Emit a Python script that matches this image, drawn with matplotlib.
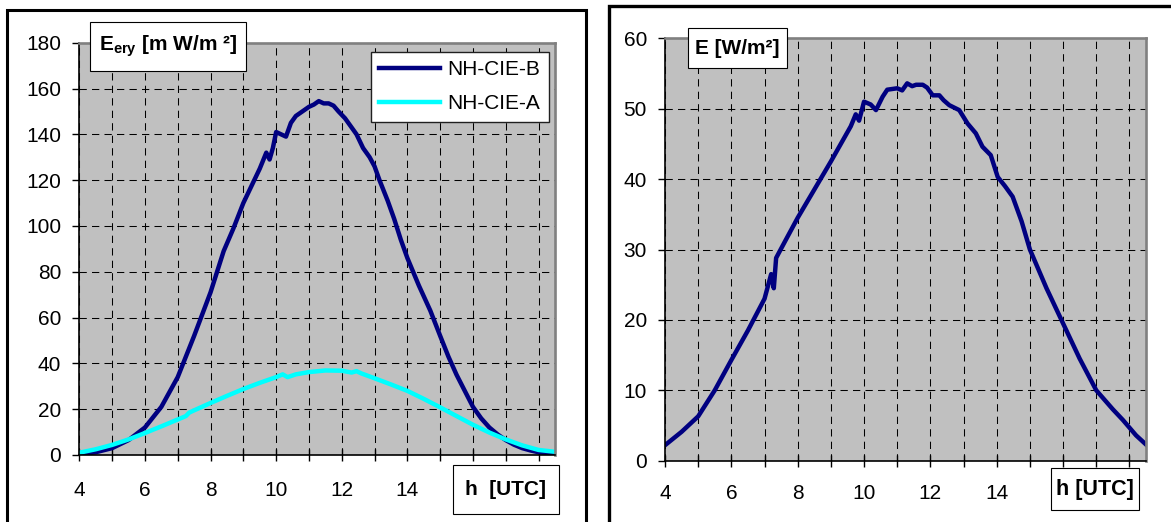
import numpy as np
import matplotlib.pyplot as plt
from matplotlib.patches import Rectangle

plt.rcParams.update({'font.family': 'Liberation Sans', 'font.size': 15,
                     'mathtext.fontset': 'custom', 'mathtext.rm': 'Liberation Sans',
                     'mathtext.bf': 'Liberation Sans:bold', 'mathtext.it': 'Liberation Sans:italic'})

W, H = 1171, 522

# erythemal irradiance [mW/m2], left panel
h_b = [4.0, 4.5, 5.0, 5.5, 6.0, 6.5, 7.0, 7.5, 8.0, 8.4,
       8.7, 9.0, 9.3, 9.5, 9.7, 9.8, 9.9, 10.0, 10.15, 10.3,
       10.45, 10.6, 10.8, 11.0, 11.15, 11.3, 11.45, 11.6, 11.75, 11.9,
       12.1, 12.25, 12.45, 12.65, 12.85, 13.0, 13.15, 13.4, 13.6, 13.8,
       14.0, 14.35, 14.7, 15.0, 15.25, 15.5, 15.75, 16.0, 16.25, 16.5,
       16.75, 17.0, 17.25, 17.5, 17.75, 18.0, 18.25, 18.5]
ery_b = [0.3, 1.2, 3.0, 6.5, 12, 21, 34, 52, 71, 89,
         99, 110, 119, 125, 132, 129, 134, 141, 140, 139,
         145, 148, 150, 152, 153, 154.5, 153.5, 153.5, 152.5, 150,
         147, 144, 140, 134, 130, 126, 120, 111, 103, 94,
         86, 74, 63, 52, 43, 35, 28, 21, 16, 12,
         9, 6.5, 4.5, 3.0, 2.0, 1.2, 0.7, 0.5]

h_a = [4.0, 4.5, 5.0, 5.5, 6.0, 6.5, 7.0, 7.25, 7.35, 7.5,
       8.0, 8.5, 9.0, 9.5, 10.0, 10.2, 10.35, 10.6, 11.0, 11.5,
       12.0, 12.3, 12.45, 12.6, 13.0, 13.5, 14.0, 14.5, 15.0, 15.5,
       16.0, 16.5, 17.0, 17.5, 18.0, 18.5]
ery_a = [1.0, 2.5, 4.4, 6.8, 9.6, 12.5, 15.5, 17.0, 18.5, 19.5,
         22.7, 25.8, 28.8, 31.5, 34.0, 35.2, 34.0, 35.2, 36.2, 36.9,
         36.8, 36.0, 36.6, 35.6, 33.5, 30.8, 28.0, 24.5, 20.8, 17.0,
         13.2, 9.8, 6.8, 4.2, 2.2, 1.4]

# total irradiance [W/m2], right panel
h_e = [4.0, 4.5, 5.0, 5.5, 6.0, 6.5, 7.0, 7.2, 7.28, 7.35,
       7.6, 8.0, 8.5, 9.0, 9.3, 9.6, 9.75, 9.85, 10.0, 10.2,
       10.36, 10.56, 10.7, 11.0, 11.15, 11.3, 11.45, 11.57, 11.77, 11.9,
       12.07, 12.27, 12.4, 12.57, 12.87, 13.12, 13.37, 13.57, 13.82, 14.03,
       14.25, 14.48, 14.75, 15.0, 15.5, 16.0, 16.5, 17.0, 17.5, 17.8,
       18.2, 18.5]
e_tot = [2.2, 4.1, 6.3, 10.0, 14.3, 18.5, 23.0, 26.5, 24.5, 28.8,
         31.0, 34.5, 38.5, 42.5, 45.0, 47.5, 49.2, 48.3, 51.0, 50.6,
         49.8, 51.7, 52.7, 52.9, 52.6, 53.6, 53.2, 53.4, 53.4, 53.0,
         51.9, 51.9, 51.2, 50.5, 49.8, 47.9, 46.5, 44.6, 43.4, 40.3,
         39.0, 37.5, 34.0, 30.0, 24.5, 19.5, 14.5, 10.0, 7.3, 5.8,
         3.6, 2.3]

# x tick labels (16 / 18 sit under the "h [UTC]" boxes)
xlab_left = ['4', '6', '8', '10', '12', '14', '', '']
xlab_right = ['4', '6', '8', '10', '12', '14', '', '18']

def fx(x):
    return x / W

def fy(y):
    return 1 - y / H

fig = plt.figure(figsize=(W / 100, H / 100), dpi=100)

def rect(x0, y0, x1, y1, lw=0.8, fill=True):
    r = Rectangle((fx(x0), fy(y1)), fx(x1) - fx(x0), fy(y0) - fy(y1),
                  transform=fig.transFigure, facecolor='white', fill=fill,
                  edgecolor='k', lw=lw, zorder=2)
    fig.add_artist(r)

def label_box(x0, y0, x1, y1, txt, size):
    rect(x0, y0, x1, y1)
    fig.text(fx((x0 + x1) / 2), fy((y0 + y1) / 2), txt, ha='center', va='center',
             fontsize=size, fontweight='bold', zorder=3)

def setup(ax, ymax, ystep, xpad, xlab):
    ax.set_facecolor('#c0c0c0')
    ax.set_xlim(4, 18.5)
    ax.set_ylim(0, ymax)
    ax.set_xticks(np.arange(4, 19, 2))
    ax.set_xticklabels(xlab)
    ax.set_xticks(np.arange(5, 19, 2), minor=True)
    ax.set_yticks(np.arange(0, ymax + 1, ystep))
    gs = dict(color='k', lw=0.75, ls=(0, (7, 5)))
    ax.grid(True, which='both', axis='x', **gs)
    ax.grid(True, which='major', axis='y', **gs)
    ax.set_axisbelow(True)
    ax.tick_params(axis='x', which='both', direction='inout', length=9, width=1, pad=xpad)
    ax.tick_params(axis='y', direction='out', length=5, width=1, pad=8)
    for s in ['top', 'right']:
        ax.spines[s].set_color('#808080')
        ax.spines[s].set_linewidth(1.9)
    for s in ['left', 'bottom']:
        ax.spines[s].set_color('k')
        ax.spines[s].set_linewidth(1.2)

ax1 = fig.add_axes([fx(79.3), fy(455), fx(555) - fx(79.3), fy(42.7) - fy(455)])
setup(ax1, 180, 20, 14, xlab_left)
ax1.plot(h_b, ery_b, color='#000080', lw=3.2, label='NH-CIE-B')
ax1.plot(h_a, ery_a, color='#00ffff', lw=3.2, label='NH-CIE-A')
ax1.legend(loc='upper left', bbox_to_anchor=(fx(370.7), fy(51.7)), bbox_transform=fig.transFigure,
           borderaxespad=0, fancybox=False, edgecolor='#202020', framealpha=1, fontsize=15,
           handlelength=2.9, handletextpad=0.35, labelspacing=0.7, borderpad=0.42)

ax2 = fig.add_axes([fx(665), fy(460.7), fx(1146) - fx(665), fy(38.3) - fy(460.7)])
setup(ax2, 60, 10, 12.5, xlab_right)
ax2.plot(h_e, e_tot, color='#000080', lw=3.2)

# outer frames of the two panels
rect(7, 10, 586, 540, lw=2.2, fill=False)
rect(609, 6, 1190, 540, lw=2.4, fill=False)

label_box(90, 22, 246, 71, r'$\mathbf{E}_{\mathbf{ery}}$ [m W/m ²]', 15)
label_box(452.7, 465, 559, 514.3, 'h  [UTC]', 15)
label_box(688, 27.7, 787.3, 68.3, 'E [W/m²]', 15)
label_box(1051, 468.3, 1139, 510, 'h [UTC]', 15.5)

plt.savefig('out.png', dpi=100)
